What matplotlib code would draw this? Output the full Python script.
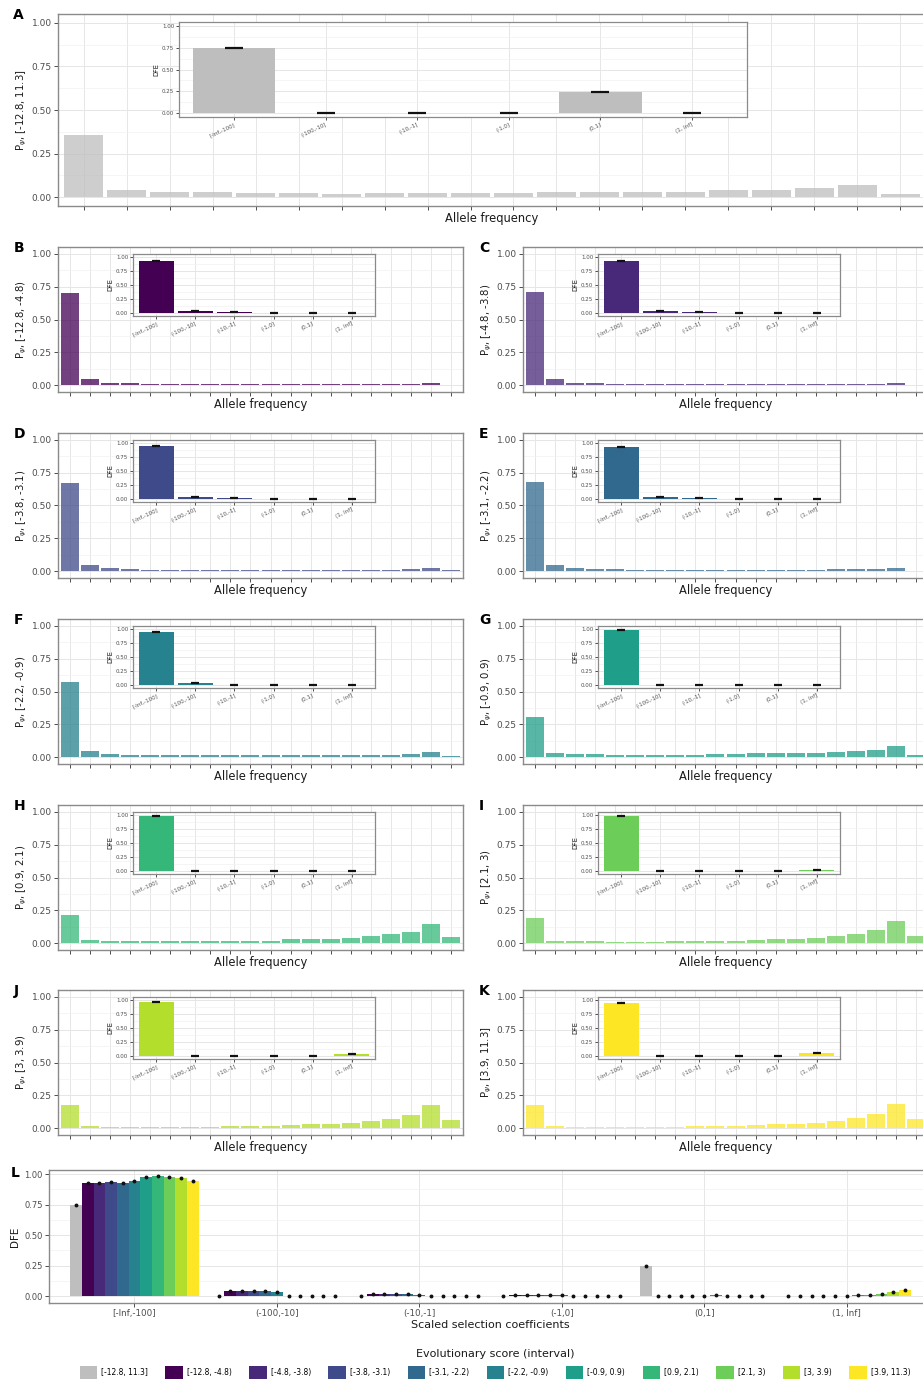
import matplotlib
matplotlib.use('Agg')
import matplotlib.pyplot as plt
import numpy as np
from matplotlib.patches import Patch

# ---------------- data ----------------
sel_bins = ['[-Inf,-100]', '(-100,-10]', '(-10,-1]', '(-1,0]', '(0,1]', '(1, Inf]']
score_bins = ['[-12.8, 11.3]', '[-12.8, -4.8)', '[-4.8, -3.8)', '[-3.8, -3.1)', '[-3.1, -2.2)',
              '[-2.2, -0.9)', '[-0.9, 0.9)', '[0.9, 2.1)', '[2.1, 3)', '[3, 3.9)', '[3.9, 11.3)']
ylab_bins = ['[-12.8, 11.3]', '[-12.8, -4.8)', '[-4.8, -3.8)', '[-3.8, -3.1)', '[-3.1, -2.2)',
             '[-2.2, -0.9)', '[-0.9, 0.9)', '[0.9, 2.1)', '[2.1, 3)', '[3, 3.9)', '[3.9, 11.3]']
colors = ['#BEBEBE', '#440154', '#482878', '#3E4A89', '#31688E', '#26828E',
          '#1F9E89', '#35B779', '#6DCD59', '#B4DE2C', '#FDE725']
letters = ['A', 'B', 'C', 'D', 'E', 'F', 'G', 'H', 'I', 'J', 'K']

# site frequency spectra (20 allele-frequency bins) per score interval
sfs_A = [0.358, 0.042, 0.029, 0.029, 0.023, 0.023, 0.019, 0.022, 0.025, 0.025,
         0.022, 0.030, 0.030, 0.030, 0.030, 0.040, 0.042, 0.052, 0.073, 0.020]
sfs_B = [0.700, 0.045, 0.022, 0.015, 0.012, 0.010, 0.009, 0.009, 0.009, 0.009,
         0.009, 0.010, 0.010, 0.010, 0.010, 0.012, 0.012, 0.013, 0.020, 0.004]
sfs_C = [0.710, 0.045, 0.022, 0.015, 0.012, 0.010, 0.009, 0.009, 0.009, 0.009,
         0.009, 0.010, 0.010, 0.010, 0.010, 0.012, 0.012, 0.013, 0.020, 0.004]
sfs_D = [0.670, 0.045, 0.025, 0.017, 0.013, 0.012, 0.010, 0.010, 0.010, 0.011,
         0.010, 0.012, 0.012, 0.012, 0.012, 0.014, 0.014, 0.016, 0.027, 0.007]
sfs_E = [0.680, 0.045, 0.025, 0.018, 0.015, 0.013, 0.011, 0.011, 0.011, 0.012,
         0.011, 0.013, 0.013, 0.013, 0.013, 0.015, 0.015, 0.017, 0.027, 0.006]
sfs_F = [0.575, 0.045, 0.025, 0.022, 0.020, 0.018, 0.015, 0.015, 0.015, 0.015,
         0.015, 0.018, 0.018, 0.018, 0.018, 0.020, 0.022, 0.027, 0.040, 0.013]
sfs_G = [0.305, 0.035, 0.025, 0.024, 0.022, 0.022, 0.020, 0.022, 0.022, 0.024,
         0.024, 0.030, 0.033, 0.033, 0.035, 0.043, 0.048, 0.060, 0.085, 0.022]
sfs_H = [0.215, 0.025, 0.020, 0.018, 0.018, 0.018, 0.017, 0.018, 0.020, 0.022,
         0.022, 0.030, 0.033, 0.036, 0.040, 0.055, 0.068, 0.090, 0.145, 0.050]
sfs_I = [0.190, 0.022, 0.016, 0.015, 0.014, 0.014, 0.013, 0.015, 0.017, 0.020,
         0.022, 0.028, 0.033, 0.037, 0.042, 0.057, 0.073, 0.100, 0.170, 0.060]
sfs_J = [0.180, 0.022, 0.014, 0.013, 0.012, 0.012, 0.012, 0.014, 0.016, 0.020,
         0.022, 0.026, 0.030, 0.033, 0.040, 0.055, 0.073, 0.103, 0.180, 0.062]
sfs_K = [0.176, 0.022, 0.014, 0.012, 0.011, 0.011, 0.011, 0.013, 0.016, 0.020,
         0.022, 0.026, 0.030, 0.033, 0.040, 0.058, 0.078, 0.106, 0.184, 0.068]
sfs_all = [sfs_A, sfs_B, sfs_C, sfs_D, sfs_E, sfs_F, sfs_G, sfs_H, sfs_I, sfs_J, sfs_K]

# DFE (6 selection bins) per score interval
dfe_A = [0.750, 0.000, 0.000, 0.000, 0.245, 0.000]
dfe_B = [0.930, 0.045, 0.013, 0.007, 0.000, 0.000]
dfe_C = [0.930, 0.045, 0.015, 0.008, 0.000, 0.000]
dfe_D = [0.935, 0.040, 0.013, 0.008, 0.000, 0.000]
dfe_E = [0.930, 0.042, 0.015, 0.008, 0.000, 0.000]
dfe_F = [0.945, 0.032, 0.012, 0.007, 0.004, 0.000]
dfe_G = [0.975, 0.000, 0.000, 0.000, 0.012, 0.006]
dfe_H = [0.980, 0.000, 0.000, 0.000, 0.002, 0.010]
dfe_I = [0.975, 0.000, 0.000, 0.000, 0.000, 0.020]
dfe_J = [0.965, 0.000, 0.000, 0.000, 0.002, 0.030]
dfe_K = [0.945, 0.000, 0.000, 0.000, 0.002, 0.050]
dfe_all = [dfe_A, dfe_B, dfe_C, dfe_D, dfe_E, dfe_F, dfe_G, dfe_H, dfe_I, dfe_J, dfe_K]

# ---------------- figure ----------------
W, H = 923, 1384
fig = plt.figure(figsize=(W / 100, H / 100), dpi=100)
plt.rcParams['font.family'] = ['DejaVu Sans']

BORDER = '#8a8a8a'
TICKC = '#4D4D4D'
GRID_MAJ = '#E6E6E6'
GRID_MIN = '#F2F2F2'


def px_axes(l, t, r, b):
    return fig.add_axes([l / W, 1 - b / H, (r - l) / W, (b - t) / H])


def style(ax, tick_fs, ticklen=3, lw=1.0):
    for s in ax.spines.values():
        s.set_color(BORDER)
        s.set_linewidth(lw)
    ax.tick_params(axis='both', which='major', color=TICKC, length=ticklen, width=0.7,
                   labelsize=tick_fs, labelcolor=TICKC, pad=1.5)
    ax.tick_params(axis='both', which='minor', length=0)
    ax.set_axisbelow(True)
    ax.grid(True, which='major', color=GRID_MAJ, lw=0.7)
    ax.grid(True, which='minor', axis='y', color=GRID_MIN, lw=0.5)
    ax.set_yticks([0, 0.25, 0.5, 0.75, 1.0])
    ax.set_yticklabels(['0.00', '0.25', '0.50', '0.75', '1.00'])
    ax.set_yticks([0.125, 0.375, 0.625, 0.875], minor=True)
    ax.set_ylim(-0.05, 1.05)


def draw_main(ax, vals, color, ylab):
    x = np.arange(len(vals))
    ax.bar(x, vals, width=0.9, color=color, alpha=0.75, zorder=2, lw=0)
    ax.set_xlim(-0.6, len(vals) - 1 + 0.6)
    style(ax, 6.5)
    ax.set_xticks(x)
    ax.set_xticklabels([])
    ax.set_xlabel('Allele frequency', fontsize=8.3, color='#1a1a1a', labelpad=0)
    ax.set_ylabel(r'P$_{\psi}$, ' + ylab, fontsize=7.3, color='#1a1a1a', labelpad=2)


def draw_inset(ax, vals, color, cap_ms):
    x = np.arange(len(vals))
    ax.bar(x, vals, width=0.9, color=color, zorder=2, lw=0)
    ax.plot(x, vals, ls='none', marker='_', ms=cap_ms, mew=1.6, color='#111111', zorder=3)
    ax.set_xlim(-0.6, len(vals) - 1 + 0.6)
    style(ax, 4.0, ticklen=2, lw=0.9)
    ax.set_xticks(x)
    ax.set_xticklabels(sel_bins, rotation=25, ha='right', va='top',
                       rotation_mode='anchor', fontsize=4.0, color=TICKC)
    ax.set_ylabel('DFE', fontsize=4.8, color='#1a1a1a', labelpad=1.5)
    ax.set_facecolor('white')


# Panel A
axA = px_axes(58, 14, 926, 206)
draw_main(axA, sfs_all[0], colors[0], ylab_bins[0])
insA = px_axes(179, 22, 747, 117)
draw_inset(insA, dfe_all[0], colors[0], 13)
fig.text(13 / W, 1 - 8 / H, 'A', fontsize=10, fontweight='bold', va='top', ha='left')

# Panels B-K
row_tops = [247, 433, 619, 805, 990]
col_lefts = [58, 523]
for k in range(1, 11):
    r = (k - 1) // 2
    c = (k - 1) % 2
    t = row_tops[r]
    l = col_lefts[c]
    ax = px_axes(l, t, l + 405, t + 145)
    draw_main(ax, sfs_all[k], colors[k], ylab_bins[k])
    ins = px_axes(l + 75, t + 7, l + 317, t + 69)
    draw_inset(ins, dfe_all[k], colors[k], 6)
    fig.text((l - 44) / W, 1 - (t - 6) / H, letters[k], fontsize=10, fontweight='bold',
             va='top', ha='left')

# Panel L
axL = px_axes(49, 1170, 932, 1303)
nS = len(score_bins)
bw = 0.9 / nS
for j in range(nS):
    xs = np.arange(len(sel_bins)) + (j - (nS - 1) / 2) * bw
    vals = [dfe_all[j][i] for i in range(len(sel_bins))]
    axL.bar(xs, vals, width=bw, color=colors[j], zorder=2, lw=0)
    axL.plot(xs, vals, ls='none', marker='o', ms=1.8, color='#111111', zorder=3)
axL.set_xlim(-0.6, len(sel_bins) - 1 + 0.6)
style(axL, 6.0)
axL.set_ylim(-0.057, 1.033)
axL.set_xticks(np.arange(len(sel_bins)))
axL.set_xticklabels(sel_bins, fontsize=6.3, color=TICKC)
axL.set_xlabel('Scaled selection coefficients', fontsize=8, color='#1a1a1a', labelpad=1)
axL.set_ylabel('DFE', fontsize=7.5, color='#1a1a1a', labelpad=3)
fig.text(11 / W, 1 - 1166 / H, 'L', fontsize=10, fontweight='bold', va='top', ha='left')

handles = [Patch(facecolor=c, edgecolor='none') for c in colors]
leg = fig.legend(handles, score_bins, ncol=nS, loc='upper center',
                 bbox_to_anchor=(495 / W, 1 - 1344 / H), frameon=False, fontsize=5.5,
                 handlelength=2.3, handleheight=2.1, handletextpad=0.5, columnspacing=2.3,
                 title='Evolutionary score (interval)', title_fontsize=8, borderpad=0.2,
                 labelspacing=0.3)
leg.get_title().set_color('#1a1a1a')
leg._legend_box.sep = 5

fig.savefig('out.png', dpi=100)
